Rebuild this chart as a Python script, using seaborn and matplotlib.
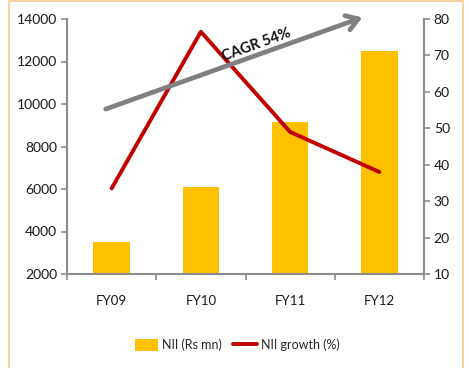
import numpy as np
import pandas as pd
import seaborn as sns
import matplotlib
matplotlib.use("Agg")
import matplotlib.pyplot as plt
from matplotlib.patches import Rectangle, Patch
from matplotlib.lines import Line2D

years = ["FY09", "FY10", "FY11", "FY12"]
nii = [3500, 6100, 9150, 12500]
nii_growth = [33.5, 76.5, 49.0, 38.0]
left_ticks = [2000, 4000, 6000, 8000, 10000, 12000, 14000]
right_ticks = [10, 20, 30, 40, 50, 60, 70, 80]
cagr_label = "CAGR 54%"

sns.set_theme(style="white")
plt.rcParams["font.family"] = ["Lato", "DejaVu Sans"]

W, H = 469, 368
fig = plt.figure(figsize=(W / 100, H / 100), dpi=100)
ax = fig.add_axes([67 / W, (H - 274) / H, (424 - 67) / W, (274 - 19) / H])

df = pd.DataFrame({"year": years, "nii": nii, "growth": nii_growth})
sns.barplot(data=df, x="year", y="nii", ax=ax, color="#FFC000",
            saturation=1, width=0.41, linewidth=0, edgecolor="none")
ax.set_xlim(-0.5, 3.5)
ax.set_ylim(2000, 14000)
ax.set_yticks(left_ticks)
ax.set_xlabel("")
ax.set_ylabel("")

ax2 = ax.twinx()
sns.lineplot(x=np.arange(len(years)), y=nii_growth, ax=ax2, color="#C00000",
             linewidth=2.8, solid_capstyle="round")
ax2.set_ylim(10, 80)
ax2.set_yticks(right_ticks)
ax2.set_xlim(-0.5, 3.5)

axis_grey = "#8C8C8C"
for a in (ax, ax2):
    for s in a.spines.values():
        s.set_visible(False)
ax.spines["left"].set_visible(True)
ax.spines["bottom"].set_visible(True)
ax2.spines["right"].set_visible(True)
for s in (ax.spines["left"], ax.spines["bottom"], ax2.spines["right"]):
    s.set_color(axis_grey)
    s.set_linewidth(1.5)

# category labels at centres, tick marks at category boundaries
ax.set_xticks(np.arange(-0.5, 4, 1.0))
ax.set_xticklabels([])
ax.set_xticks(np.arange(4), minor=True)
ax.set_xticklabels(years, minor=True)
ax.tick_params(axis="x", which="major", length=4, width=1.2, color=axis_grey,
               direction="out", bottom=True)
ax.tick_params(axis="x", which="minor", length=0, pad=15, labelsize=9.5,
               labelcolor="#1a1a1a")
ax.tick_params(axis="y", length=4, width=1.2, color=axis_grey, direction="out",
               left=True, labelsize=10, labelcolor="#1a1a1a", pad=3)
ax2.tick_params(axis="y", length=4, width=1.2, color=axis_grey, direction="out",
                right=True, labelsize=10, labelcolor="#1a1a1a", pad=3)

# growth trend arrow
ax2.annotate("", xy=(0.835, 1.01), xytext=(0.101, 0.643),
             xycoords="axes fraction", textcoords="axes fraction",
             arrowprops=dict(arrowstyle="->,head_length=0.7,head_width=0.45",
                             color="#808080", lw=3.4),
             annotation_clip=False)
ax2.text(0.53, 0.9, cagr_label, transform=ax2.transAxes, rotation=20,
         ha="center", va="center", fontsize=10.5, fontweight="bold",
         color="#111111")

handles = [Patch(facecolor="#FFC000", edgecolor="none"),
           Line2D([0], [0], color="#C00000", lw=2.8)]
fig.legend(handles, ["NII (Rs mn)", "NII growth (%)"], loc="center",
           bbox_to_anchor=(237 / W, 1 - 345 / H), ncol=2, frameon=False,
           fontsize=9, handlelength=1.9, handleheight=1.0, handletextpad=0.3,
           columnspacing=0.9)

fig.patches.append(Rectangle((9 / W, -0.01), (463 - 9) / W, 1.008,
                             transform=fig.transFigure, fill=False,
                             edgecolor="#FAC98F", linewidth=1.2))

fig.savefig("out.png", dpi=100)
